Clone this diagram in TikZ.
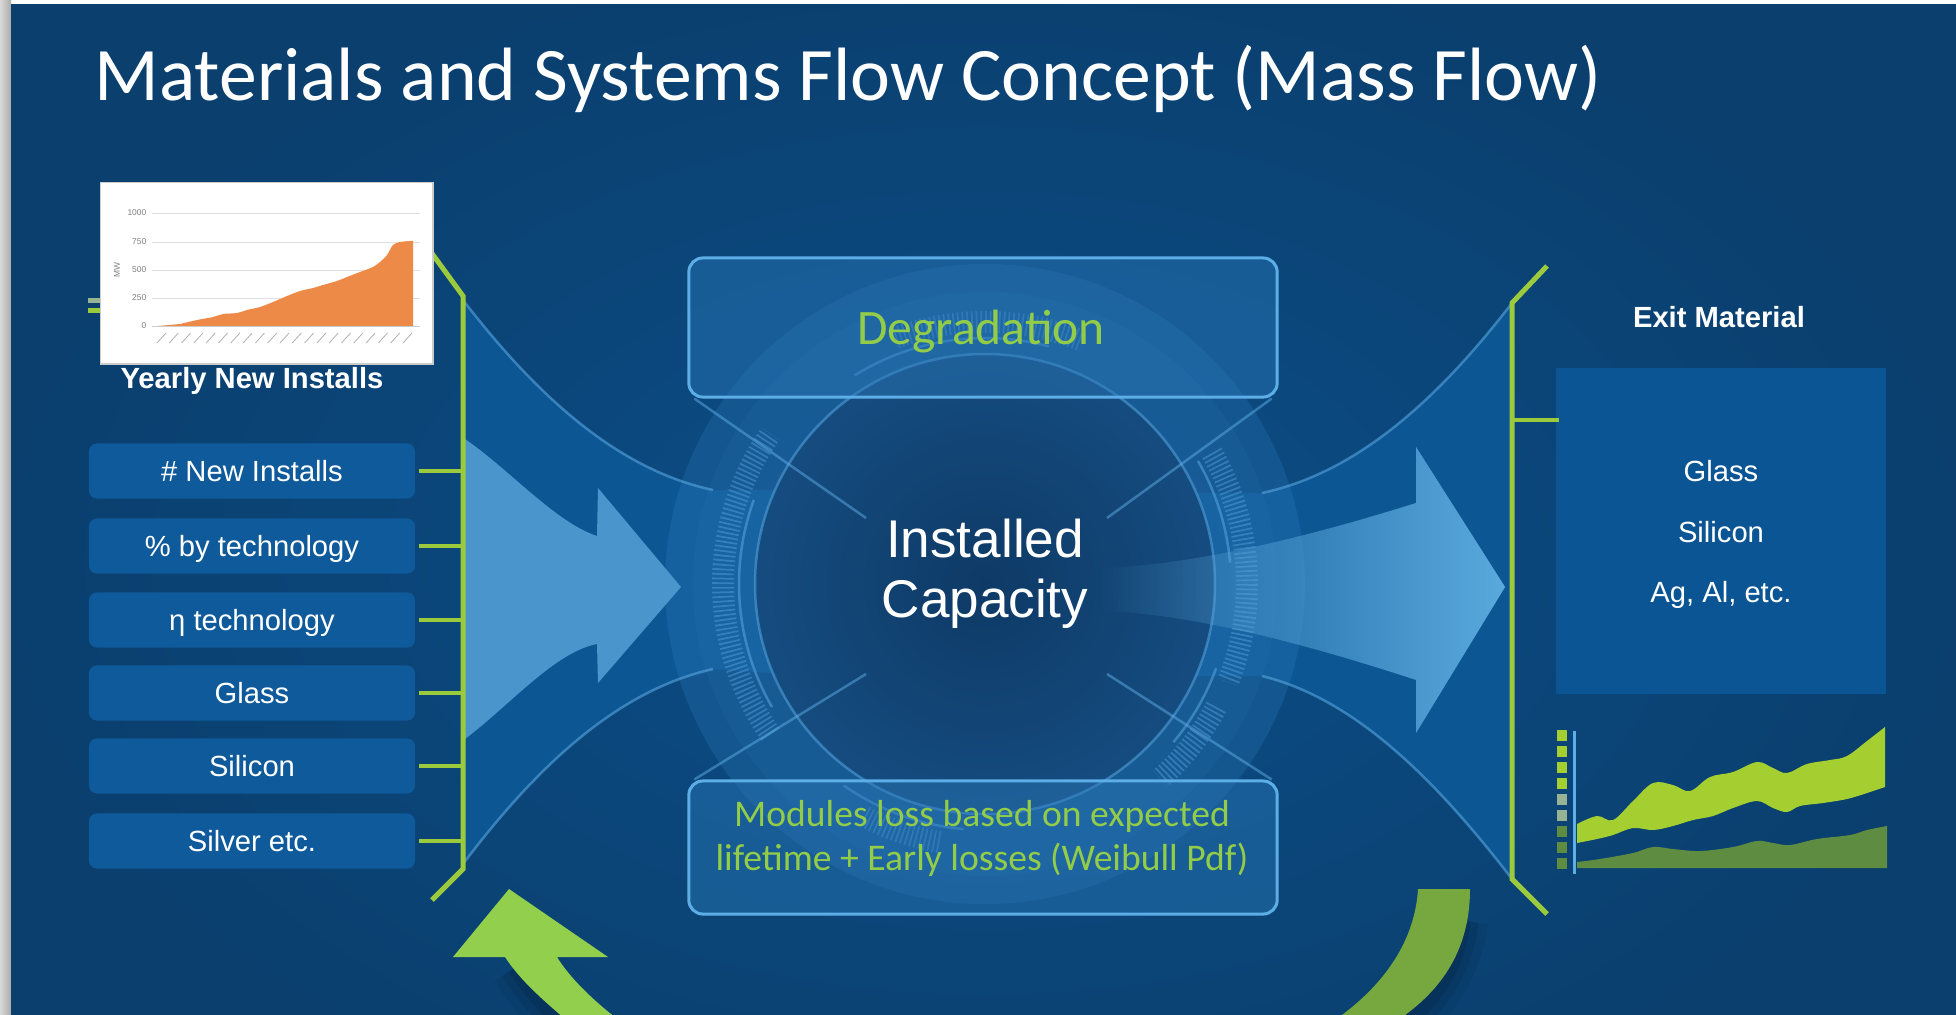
\documentclass[tikz,border=0pt]{standalone}
\usepackage{fontspec}
\setmainfont{Liberation Sans}
\newfontfamily\calibri{Carlito}
\usetikzlibrary{positioning,fadings}

\definecolor{slideouter}{HTML}{0A3F6E}
\definecolor{slideinner}{HTML}{0C4E88}
\definecolor{funnelblue}{HTML}{0C5694}
\definecolor{itemblue}{HTML}{0F5A9B}
\definecolor{exitblue}{HTML}{0C5594}
\definecolor{ringblue}{HTML}{2A78B8}
\definecolor{discdark}{HTML}{0E3A66}
\definecolor{discedge}{HTML}{154C80}
\definecolor{edgeblue}{HTML}{5DADE6}
\definecolor{arrowblue}{HTML}{4A95CC}
\definecolor{exitarrow}{HTML}{5BAADE}
\definecolor{limegreen}{HTML}{9BCB3C}
\definecolor{textgreen}{HTML}{92CC48}
\definecolor{loopgreen}{HTML}{92CF4C}
\definecolor{loopolive}{HTML}{76A83F}
\definecolor{chartorange}{HTML}{EE8A48}
\definecolor{bandlime}{HTML}{A5CF30}
\definecolor{palegreen}{HTML}{98B294}
\definecolor{deepgreen}{HTML}{5E8D42}
\definecolor{shadownavy}{HTML}{041E38}

\tikzfading[name=fade in right, left color=transparent!100, right color=transparent!0]

\tikzset{
  itembox/.style={fill=itemblue, rounded corners=0.08cm, minimum width=3.26cm,
    minimum height=0.55cm, inner sep=0pt, text=white,
    font=\fontsize{8.3pt}{10pt}\selectfont, text height=0.21cm, text depth=0cm},
  flowbox/.style={draw=edgeblue, line width=0.03cm, fill=ringblue, fill opacity=0.45,
    rounded corners=0.14cm, minimum width=5.88cm, inner sep=0pt},
  bodytext/.style={text=white, font=\fontsize{8.3pt}{10pt}\selectfont, inner sep=0pt, anchor=base},
  headtext/.style={bodytext, font=\bfseries\fontsize{8.3pt}{10pt}\selectfont},
  greentext/.style={text=textgreen, inner sep=0pt, anchor=base},
  bracket/.style={draw=limegreen, line width=0.05cm, line join=miter},
  tickline/.style={draw=limegreen, line width=0.045cm},
  funnelline/.style={draw=edgeblue, line width=0.025cm, opacity=0.55},
  ringline/.style={draw=edgeblue, line width=0.025cm, opacity=0.5},
}

\begin{document}
\begin{tikzpicture}[x=0.01cm, y=-0.01cm]
	\clip (0,0) rectangle (1956,1014);

	% screenshot frame and slide
	\fill[white] (0,0) rectangle (1956,6);
	\shade[left color=gray!30, right color=gray!65] (0,0) rectangle (11,1030);
	\fill[slideouter] (11,4) rectangle (1970,1030);
	\begin{scope}
		\clip (11,4) rectangle (1970,1030);
		\shade[inner color=slideinner, outer color=slideouter] (985,560) ellipse [x radius=1000, y radius=620];
	\end{scope}

	\coordinate (hub) at (985,584);

	% funnels
	\fill[funnelblue] (463,300) .. controls (540,400) and (620,470) .. (713,490) -- (800,490)
		-- (800,675) -- (713,669) .. controls (620,690) and (540,762) .. (463,864) -- cycle;
	\fill[funnelblue] (1512,303) .. controls (1435,403) and (1355,473) .. (1262,493) -- (1180,493)
		-- (1180,676) -- (1262,676) .. controls (1355,699) and (1435,779) .. (1512,879) -- cycle;

	% rings round the installed capacity
	\fill[ringblue, opacity=0.3] (hub) circle[radius=320];
	\fill[ringblue, opacity=0.15] (hub) circle[radius=292];
	\foreach \a/\b in {145/215, -30/22, 28/48, 250/292, 100/118}
		\draw[edgeblue, opacity=0.4, line width=0.22cm, dash pattern=on 0.5pt off 0.8pt]
			(hub) ++(\a:262) arc[start angle=\a, end angle=\b, radius=262];

	% inflow arrow
	\fill[arrowblue] (465,439) .. controls (510,470) and (555,522) .. (597,536) -- (598,488) -- (681,587)
		-- (598,683) -- (597,644) .. controls (555,652) and (510,705) .. (465,739) -- cycle;

	\shade[inner color=discdark, outer color=discedge] (hub) circle[radius=230];
	\draw[ringline] (hub) circle[radius=230];
	\foreach \a/\b in {238/285, 150/200, 330/355, 20/40, 95/125}
		\draw[ringline] (hub) ++(\a:246) arc[start angle=\a, end angle=\b, radius=246];

	% outflow arrow
	\fill[exitarrow, path fading=fade in right] (1098,568) .. controls (1200,566) and (1330,530) .. (1416,503)
		-- (1416,447) -- (1505,587) -- (1416,733) -- (1416,680) .. controls (1330,652) and (1200,613) .. (1098,611) -- cycle;

	\draw[funnelline] (463,300) .. controls (540,400) and (620,470) .. (713,490);
	\draw[funnelline] (463,864) .. controls (540,762) and (620,690) .. (713,669);
	\draw[funnelline] (1512,303) .. controls (1435,403) and (1355,473) .. (1262,493);
	\draw[funnelline] (1512,879) .. controls (1435,779) and (1355,699) .. (1262,676);

	% hourglass
	\node[flowbox, minimum height=1.39cm] (degbox) at (983,327.5) {};
	\node[flowbox, minimum height=1.33cm] (lossbox) at (983,847.5) {};
	\draw[ringline] (degbox.south west) ++(7,0) -- (866,518);
	\draw[ringline] (degbox.south east) ++(-7,0) -- (1107,518);
	\draw[ringline] (lossbox.north west) ++(7,0) -- (866,674);
	\draw[ringline] (lossbox.north east) ++(-7,0) -- (1107,674);

	\node[greentext, font=\calibri\fontsize{14.1pt}{17pt}\selectfont] (degtext) at (981,344) {Degradation};
	\node[greentext, font=\calibri\fontsize{10.7pt}{13pt}\selectfont] (losstextA) at (982,826) {Modules loss based on expected};
	\node[greentext, font=\calibri\fontsize{10.7pt}{13pt}\selectfont] (losstextB) at (982,870) {lifetime + Early losses (Weibull Pdf)};

	\node[bodytext, font=\fontsize{15.1pt}{18pt}\selectfont] (capA) at (985,557) {Installed};
	\node[bodytext, font=\fontsize{15.1pt}{18pt}\selectfont] (capB) at (985,617) {Capacity};

	\node[anchor=base west, inner sep=0pt, text=white, font=\calibri\fontsize{21.5pt}{25pt}\selectfont]
		(title) at (94,100) {Materials and Systems Flow Concept (Mass Flow)};

	% inputs
	\coordinate (inTop) at (463,296);
	\coordinate (inBottom) at (463,869);
	\draw[bracket] (412,226) -- (inTop) -- (inBottom) -- (432,900);

	\node[headtext] (yearly) at (252,388) {Yearly New Installs};
	\foreach \name/\ypos/\txt in {newinst/471/{\# New Installs}, share/546/{\% by technology},
		eta/620/{η technology}, glassin/693/{Glass}, siliconin/766/{Silicon}, silverin/841/{Silver etc.}}
	{
		\node[itembox] (\name) at (252,\ypos) {\txt};
		\draw[tickline] ([xshift=0.03cm]\name.east) -- (\name.east -| inTop);
	}

	% exit
	\coordinate (outTop) at (1512,303);
	\coordinate (outBottom) at (1512,879);
	\draw[bracket] (1547,266) -- (outTop) -- (outBottom) -- (1547,914);

	\node[fill=exitblue, minimum width=3.29cm, minimum height=3.26cm, inner sep=0pt] (exitbox) at (1721,531) {};
	\coordinate (exitTick) at (1512,420);
	\draw[tickline] (exitTick) -- ([xshift=0.03cm]exitTick -| exitbox.west);

	\node[headtext] (exittitle) at (1719,327) {Exit Material};
	\node[bodytext] (exitglass) at (1721,481) {Glass};
	\node[bodytext] (exitsilicon) at (1721,542) {Silicon};
	\node[bodytext] (exitmetal) at (1721,602) {Ag, Al, etc.};

	% exit material chart
	\foreach \i/\c in {0/bandlime, 1/bandlime, 2/bandlime, 3/bandlime, 4/palegreen, 5/palegreen, 6/deepgreen, 7/deepgreen, 8/deepgreen}
		\fill[\c] (1557,{730+16*\i}) rectangle ++(10,11);
	\draw[edgeblue, line width=0.03cm] (1574,731) -- (1574,874);
	\fill[bandlime] plot[smooth, tension=0.6] coordinates {(1577,824) (1597,816) (1613,820) (1633,801) (1653,783)
		(1673,785) (1690,791) (1710,777) (1733,772) (1757,762) (1773,768) (1787,773) (1807,764) (1830,760)
		(1847,756) (1867,741) (1885,727)} -- (1885,787)
		-- plot[smooth, tension=0.6] coordinates {(1867,793) (1847,799) (1823,803) (1800,806) (1787,812) (1773,808)
		(1757,801) (1733,808) (1713,816) (1693,820) (1673,826) (1653,830) (1633,828) (1613,835) (1597,839)
		(1577,843)} -- cycle;
	\fill[deepgreen] plot[smooth, tension=0.6] coordinates {(1577,862) (1600,859) (1633,853) (1653,847) (1673,849)
		(1700,851) (1733,847) (1757,841) (1773,843) (1790,845) (1817,839) (1850,835) (1867,830) (1887,826)}
		-- (1887,868) -- (1577,868) -- cycle;

	% yearly installs chart
	\fill[palegreen] (88,298) rectangle (100,303);
	\fill[limegreen] (88,308) rectangle (100,313);
	\node[draw=gray!40, fill=white, minimum width=3.32cm, minimum height=1.81cm, inner sep=0pt, anchor=north west]
		(chart) at (100,182) {};
	\foreach \gy in {213,242,270,298}
		\draw[gray!25, line width=0.01cm] (152,\gy) -- (420,\gy);
	\fill[chartorange] (158,326) -- plot[smooth, tension=0.5] coordinates {(180,324) (197,320) (213,317) (223,314)
		(237,313) (247,310) (260,307) (273,302) (287,296) (300,291) (313,288) (323,285) (337,281) (347,277)
		(360,272) (373,267) (380,262) (387,255) (393,245) (400,242) (410,241) (413,241)} -- (413,326) -- cycle;
	\draw[gray!40, line width=0.008cm] (152,326) -- (420,326);
	\foreach \v/\gy in {1000/213, 750/242, 500/270, 250/298, 0/326}
		\node[font=\fontsize{2.4pt}{3pt}\selectfont, text=gray, anchor=east, inner sep=0pt] (ylab\v) at (147,\gy) {\v};
	\node[font=\fontsize{2.4pt}{3pt}\selectfont, text=gray, rotate=90, inner sep=0pt] (yaxis) at (117,270) {MW};
	\foreach \i in {0,...,20}
		\draw[gray!60, line width=0.008cm] ({166+12.3*\i},333) -- ++(-9,10);

	% recycling loop
	\foreach \w/\o in {0.6/0.10, 0.42/0.14, 0.26/0.2}
	{
		\draw[shadownavy, line width=\w cm, opacity=\o] (520,965) .. controls (535,990) and (555,1010) .. (585,1035);
		\draw[shadownavy, line width=\w cm, opacity=\o] (1458,920) .. controls (1452,965) and (1432,995) .. (1392,1030);
	}
	\fill[loopgreen] (509,889) -- (608,957) -- (557,957) .. controls (568,975) and (588,996) .. (616,1018)
		-- (564,1018) .. controls (538,996) and (518,977) .. (505,957) -- (453,957) -- cycle;
	\fill[loopolive] (1418,889) -- (1470,889) .. controls (1470,940) and (1450,985) .. (1398,1020)
		-- (1335,1020) .. controls (1385,985) and (1415,940) .. (1418,889) -- cycle;
\end{tikzpicture}
\end{document}
